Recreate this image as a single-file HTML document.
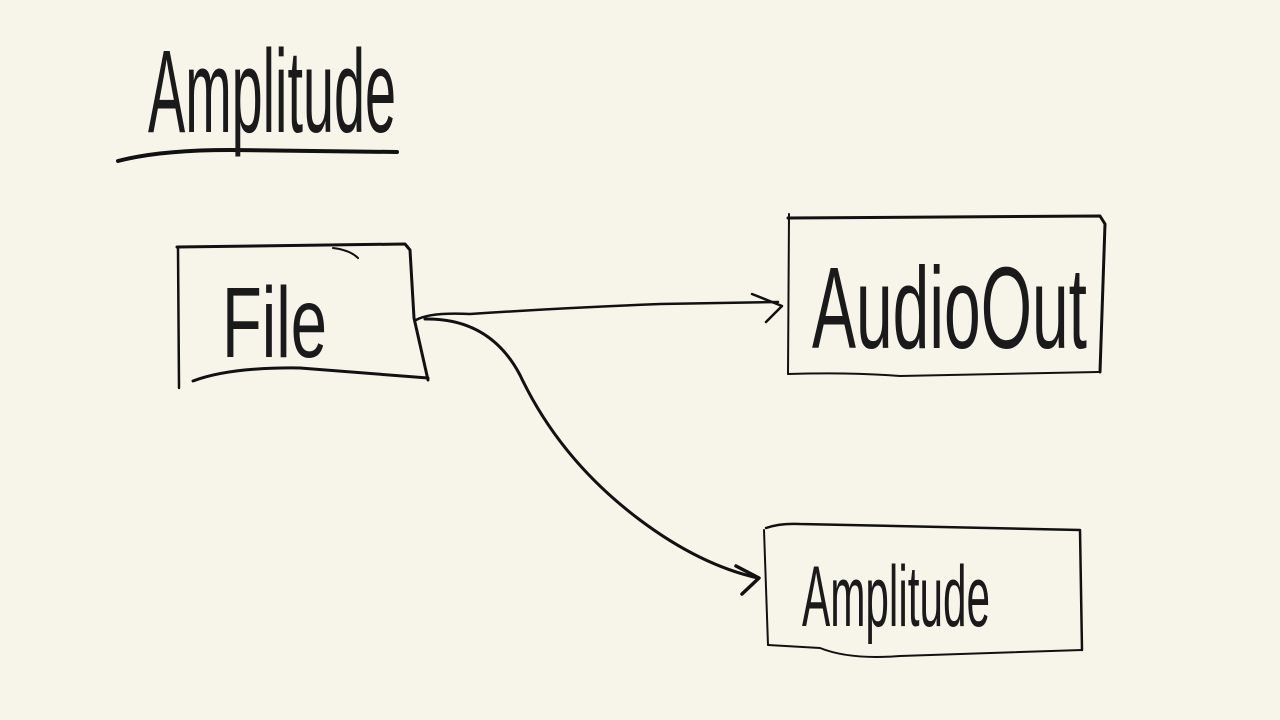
<!DOCTYPE html>
<html><head><meta charset="utf-8"><style>
html,body{margin:0;padding:0;background:#f7f5ea;}
svg{display:block}
text{font-family:"Liberation Sans",sans-serif;fill:#1a1a1a;}
</style></head><body>
<svg width="1280" height="720" viewBox="0 0 1280 720" xmlns="http://www.w3.org/2000/svg">
<rect width="1280" height="720" fill="#f7f5ea"/>
<g fill="none" stroke="#111" stroke-linecap="round" stroke-linejoin="round">
<path d="M118 161 Q160 150 230 150 L397 152" stroke-width="4"/>
<path d="M177 247 L405 244 L410 250 L414 318 L428 380" stroke-width="3"/>
<path d="M178 248 L179 388" stroke-width="2.5"/>
<path d="M193 381 Q230 367 300 368 L428 378" stroke-width="3"/>
<path d="M333 248 Q350 250 358 258" stroke-width="2"/>
<path d="M788 218 L1100 216 L1105 224 L1100 372" stroke-width="3"/>
<path d="M789 214 L788 374" stroke-width="2"/>
<path d="M788 374 Q850 372 900 376 L1098 372" stroke-width="2"/>
<path d="M766 528 Q780 523 800 524 L1080 530 L1082 650" stroke-width="2.5"/>
<path d="M764 530 L768 645" stroke-width="2"/>
<path d="M768 645 L820 648 Q850 660 900 656 L1082 650" stroke-width="2"/>
<path d="M416 320 Q430 312 470 314 Q560 308 660 304 L778 302" stroke-width="2.5"/>
<path d="M752 294 L782 306 L766 322" stroke-width="2.5"/>
<path d="M425 319 Q490 318 520 375 Q560 460 640 520 Q700 565 758 578" stroke-width="3"/>
<path d="M736 566 L759 578 L742 594" stroke-width="3.5"/>
</g>
<text x="148" y="132" font-size="118" textLength="248" lengthAdjust="spacingAndGlyphs">Amplitude</text>
<text x="222" y="357" font-size="100" textLength="105" lengthAdjust="spacingAndGlyphs">File</text>
<text x="812" y="348" font-size="116" textLength="275" lengthAdjust="spacingAndGlyphs">AudioOut</text>
<text x="802" y="626" font-size="86" textLength="188" lengthAdjust="spacingAndGlyphs">Amplitude</text>
</svg>
</body></html>
